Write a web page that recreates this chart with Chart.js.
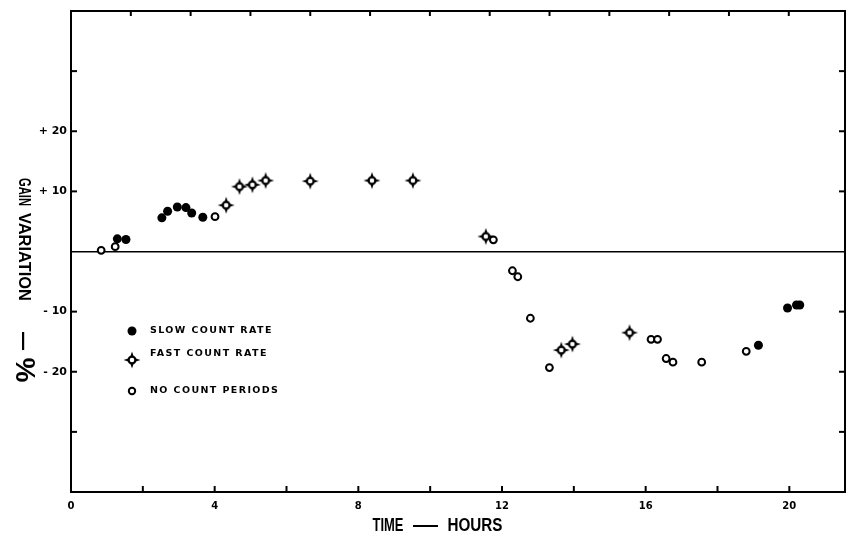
<!DOCTYPE html>
<html>
<head>
<meta charset="utf-8">
<script src="https://cdn.jsdelivr.net/npm/chart.js@4.4.1/dist/chart.umd.min.js"></script>
<style>
    html, body { margin: 0; padding: 0; background: #fff; }
    #wrap { width: 848px; height: 540px; }
</style>
</head>
<body>
<div id="wrap"><canvas id="gain" width="848" height="540"></canvas></div>
<script>
// gain variation (%) against time (hours)
const slowHours = [1.29, 1.53, 2.53, 2.69, 2.96, 3.20, 3.36, 3.67, 19.14, 19.95, 20.20, 20.29];
const slowGain = [2.1, 2.0, 5.6, 6.7, 7.4, 7.3, 6.4, 5.7, -15.6, -9.4, -8.9, -8.9];

const fastHours = [4.32, 4.69, 5.05, 5.42, 6.66, 8.38, 9.52, 11.55, 13.65, 13.96, 15.55];
const fastGain = [7.7, 10.8, 11.1, 11.8, 11.7, 11.8, 11.8, 2.5, -16.4, -15.4, -13.5];

const idleHours = [0.84, 1.23, 4.01, 11.76, 12.29, 12.44, 12.79, 13.32, 16.15, 16.33, 16.57, 16.76, 17.56, 18.80];
const idleGain = [0.2, 0.8, 5.8, 1.95, -3.2, -4.2, -11.1, -19.3, -14.6, -14.6, -17.8, -18.4, -18.4, -16.6];

const seriesNames = ['SLOW COUNT RATE', 'FAST COUNT RATE', 'NO COUNT PERIODS'];

const xLabelValues = [0, 4, 8, 12, 16, 20];
const yLabelValues = [20, 10, -10, -20];
const yLabelText = ['+ 20', '+ 10', '- 10', '- 20'];

const toPoints = (xs, ys) => xs.map((x, i) => ({x: x, y: ys[i]}));

// open ring with four tapered spikes
function starMarker() {
    const c = document.createElement('canvas');
    c.width = 20;
    c.height = 20;
    const g = c.getContext('2d');
    const m = 10;
    const b = 1.8;
    g.fillStyle = '#000';
    g.beginPath();
    g.moveTo(m, 1.5); g.lineTo(m + b, m - 3); g.lineTo(m - b, m - 3); g.closePath();
    g.moveTo(m, 18.5); g.lineTo(m + b, m + 3); g.lineTo(m - b, m + 3); g.closePath();
    g.moveTo(1.5, m); g.lineTo(m - 3, m + b); g.lineTo(m - 3, m - b); g.closePath();
    g.moveTo(18.5, m); g.lineTo(m + 3, m + b); g.lineTo(m + 3, m - b); g.closePath();
    g.fill();
    g.beginPath();
    g.arc(m, m, 3.4, 0, Math.PI * 2);
    g.fillStyle = '#fff';
    g.fill();
    g.lineWidth = 2.2;
    g.strokeStyle = '#000';
    g.stroke();
    return c;
}
const star = starMarker();

// right-hand frame line and short tick marks pointing into the plot
const frameTicks = {
    id: 'frameTicks',
    afterDraw(chart) {
        const {ctx, chartArea: a, scales} = chart;
        ctx.save();
        ctx.strokeStyle = '#000';
        ctx.lineWidth = 2;
        const mark = (x1, y1, x2, y2) => {
            ctx.beginPath();
            ctx.moveTo(x1, y1);
            ctx.lineTo(x2, y2);
            ctx.stroke();
        };
        mark(a.right, a.top - 1, a.right, a.bottom + 1);
        const inner = s => s.ticks.filter(t => t.value > s.min && t.value < s.max);
        inner(scales.x).forEach(t => {
            const px = scales.x.getPixelForValue(t.value);
            mark(px, a.bottom, px, a.bottom - 6);
        });
        inner(scales.x2).forEach(t => {
            const px = scales.x2.getPixelForValue(t.value);
            mark(px, a.top, px, a.top + 5);
        });
        inner(scales.y).forEach(t => {
            if (t.value === 0) return;
            const py = scales.y.getPixelForValue(t.value);
            mark(a.left, py, a.left + 6, py);
            mark(a.right, py, a.right - 6, py);
        });
        ctx.restore();
    }
};

// condensed lettering: text squeezed or stretched to a given run length
function fitText(ctx, text, cx, cy, length, angle) {
    ctx.save();
    ctx.translate(cx, cy);
    ctx.rotate(angle);
    const w = ctx.measureText(text).width;
    ctx.scale(length / w, 1);
    ctx.fillText(text, 0, 0);
    ctx.restore();
}

// axis titles and the key inside the plot
const annotations = {
    id: 'annotations',
    afterDraw(chart) {
        const ctx = chart.ctx;
        ctx.save();
        ctx.fillStyle = '#000';
        ctx.textAlign = 'center';
        ctx.textBaseline = 'middle';

        ctx.font = 'bold 18px "Liberation Sans"';
        fitText(ctx, 'TIME', 388, 526, 31, 0);
        fitText(ctx, 'HOURS', 475, 526, 55, 0);
        ctx.fillRect(413, 525, 25, 2);

        const down = Math.PI / 2;
        ctx.font = 'bold 16px "Liberation Sans"';
        fitText(ctx, 'GAIN', 23, 192, 28, down);
        fitText(ctx, 'VARIATION', 23, 257, 88, down);
        ctx.fillRect(22, 332, 2.2, 18);
        ctx.font = 'bold 28px "Liberation Sans"';
        fitText(ctx, '%', 24, 370, 25, down);

        const rows = [331, 354, 391];
        const markY = [331, 360, 391];
        ctx.font = 'bold 9.5px "DejaVu Sans"';
        ctx.letterSpacing = '1.4px';
        ctx.textAlign = 'left';
        seriesNames.forEach((name, i) => ctx.fillText(name, 150, rows[i]));

        ctx.beginPath();
        ctx.arc(132, markY[0], 4.5, 0, Math.PI * 2);
        ctx.fill();
        ctx.drawImage(star, 132 - 10, markY[1] - 10);
        ctx.beginPath();
        ctx.arc(132, markY[2], 3.2, 0, Math.PI * 2);
        ctx.lineWidth = 2;
        ctx.strokeStyle = '#000';
        ctx.stroke();
        ctx.restore();
    }
};

const data = {
    datasets: [{
        label: seriesNames[0],
        data: toPoints(slowHours, slowGain),
        pointStyle: 'circle',
        pointRadius: 4.5,
        backgroundColor: '#000',
        borderColor: '#000',
        borderWidth: 0
    }, {
        label: seriesNames[1],
        data: toPoints(fastHours, fastGain),
        pointStyle: star,
        pointRadius: 10
    }, {
        label: seriesNames[2],
        data: toPoints(idleHours, idleGain),
        pointStyle: 'circle',
        pointRadius: 3.4,
        backgroundColor: '#fff',
        borderColor: '#000',
        borderWidth: 2
    }]
};

const options = {
    responsive: false,
    animation: false,
    layout: {autoPadding: false, padding: {left: 0, top: 0, bottom: 0, right: 3}},
    plugins: {
        legend: {display: false},
        tooltip: {enabled: false}
    },
    scales: {
        x: {
            type: 'linear',
            position: 'bottom',
            min: 0,
            max: 21.55,
            afterFit: s => {
                s.height = 48;
                s.paddingLeft = 0;
                s.paddingRight = 0;
            },
            border: {color: '#000', width: 2},
            grid: {display: false, drawTicks: false},
            ticks: {
                stepSize: 2,
                includeBounds: false,
                padding: 8,
                color: '#000',
                font: {family: '"DejaVu Sans"', size: 10, weight: 'bold'},
                maxRotation: 0,
                autoSkip: false,
                callback: v => xLabelValues.includes(v) ? String(v) : ''
            }
        },
        x2: {
            type: 'linear',
            position: 'top',
            min: 0,
            max: 12.94,
            afterFit: s => {
                s.height = 11;
                s.paddingLeft = 0;
                s.paddingRight = 0;
            },
            border: {color: '#000', width: 2},
            grid: {display: false, drawTicks: false},
            ticks: {display: false, stepSize: 1, includeBounds: false}
        },
        y: {
            min: -40,
            max: 40,
            afterFit: s => { s.width = 71; },
            border: {color: '#000', width: 2},
            grid: {
                drawTicks: false,
                color: c => c.tick && c.tick.value === 0 ? '#000' : 'rgba(0,0,0,0)',
                lineWidth: 1.6
            },
            ticks: {
                stepSize: 10,
                padding: 4,
                color: '#000',
                font: {family: '"DejaVu Sans"', size: 11, weight: 'bold'},
                autoSkip: false,
                callback: v => {
                    const i = yLabelValues.indexOf(v);
                    return i < 0 ? '' : yLabelText[i];
                }
            }
        }
    }
};

const ctx = document.getElementById('gain');
const chart = new Chart(ctx, {
    type: 'scatter',
    data: data,
    options: options,
    plugins: [frameTicks, annotations]
});
</script>
</body>
</html>
